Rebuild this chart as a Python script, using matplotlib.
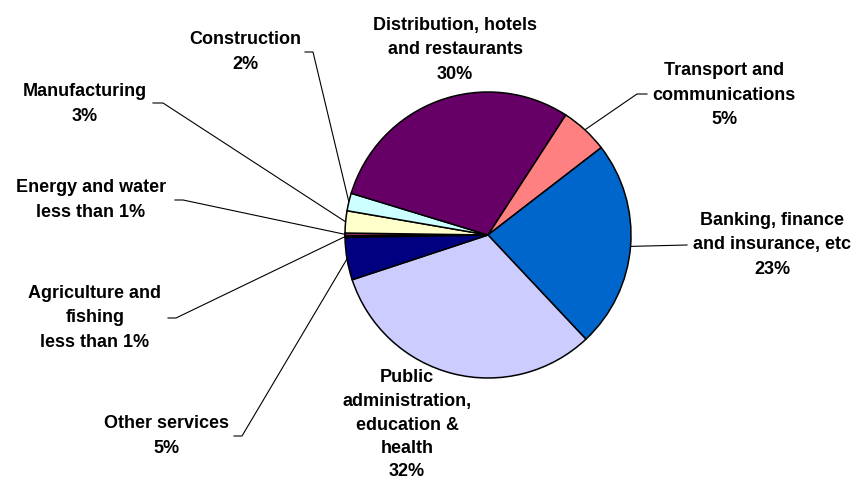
import matplotlib.pyplot as plt
import numpy as np

sectors = [
    "Agriculture and\nfishing",
    "Energy and water",
    "Manufacturing",
    "Construction",
    "Distribution, hotels\nand restaurants",
    "Transport and\ncommunications",
    "Banking, finance\nand insurance, etc",
    "Public\nadministration,\neducation &\nhealth",
    "Other services",
]
shares = [0.2, 0.3, 2.5, 2.0, 29.5, 5.4, 23.5, 32.0, 4.8]
share_text = ["less than 1%", "less than 1%", "3%", "2%", "30%", "5%", "23%", "32%", "5%"]
colors = ["#9999FF", "#993366", "#FFFFCC", "#CCFFFF", "#660066",
          "#FF8080", "#0066CC", "#CCCCFF", "#000080"]

W, H = 858, 484
# label centres (pixel coords, y from top) and the text end of each leader line
label_pos = [(95, 318), (91, 200), (85, 104), (245, 52), (455, 50),
             (724, 95), (772, 245), (407, 425), (167, 436)]
label_spacing = [1.6, 1.6, 1.6, 1.6, 1.6, 1.6, 1.6, 1.5, 1.6]
leader_start = [(168, 318), (175, 200), (153, 103), (305, 52), None,
                (647, 94), (687, 245), None, (234, 436)]
leader_bend = [(176, 318), (183, 200), (163, 103), (313, 52), None,
               (637, 94), None, None, (242, 436)]

fig = plt.figure(figsize=(W / 100, H / 100), dpi=100)
ax = fig.add_axes([0, 0, 1, 1])

cx, cy, r = 488, H - 235, 143
wedges, _ = ax.pie(shares, colors=colors, startangle=181, counterclock=False,
                   center=(cx, cy), radius=r, frame=True,
                   wedgeprops=dict(edgecolor="black", linewidth=1.1))
ax.set_xlim(0, W)
ax.set_ylim(0, H)
ax.set_aspect("equal")
ax.axis("off")

for i, w in enumerate(wedges):
    lx, ly = label_pos[i]
    ax.text(lx, H - ly, sectors[i] + "\n" + share_text[i],
            ha="center", va="center", multialignment="center",
            fontsize=13, fontweight="bold", family="Liberation Sans",
            linespacing=label_spacing[i])
    if leader_start[i] is None:
        continue
    mid = np.deg2rad((w.theta1 + w.theta2) / 2)
    px, py = cx + r * np.cos(mid), cy + r * np.sin(mid)
    pts = [leader_start[i]]
    if leader_bend[i] is not None:
        pts.append(leader_bend[i])
    xs = [p[0] for p in pts] + [px]
    ys = [H - p[1] for p in pts] + [py]
    ax.plot(xs, ys, color="black", linewidth=0.8, zorder=0)

fig.savefig("out.png", dpi=100)
